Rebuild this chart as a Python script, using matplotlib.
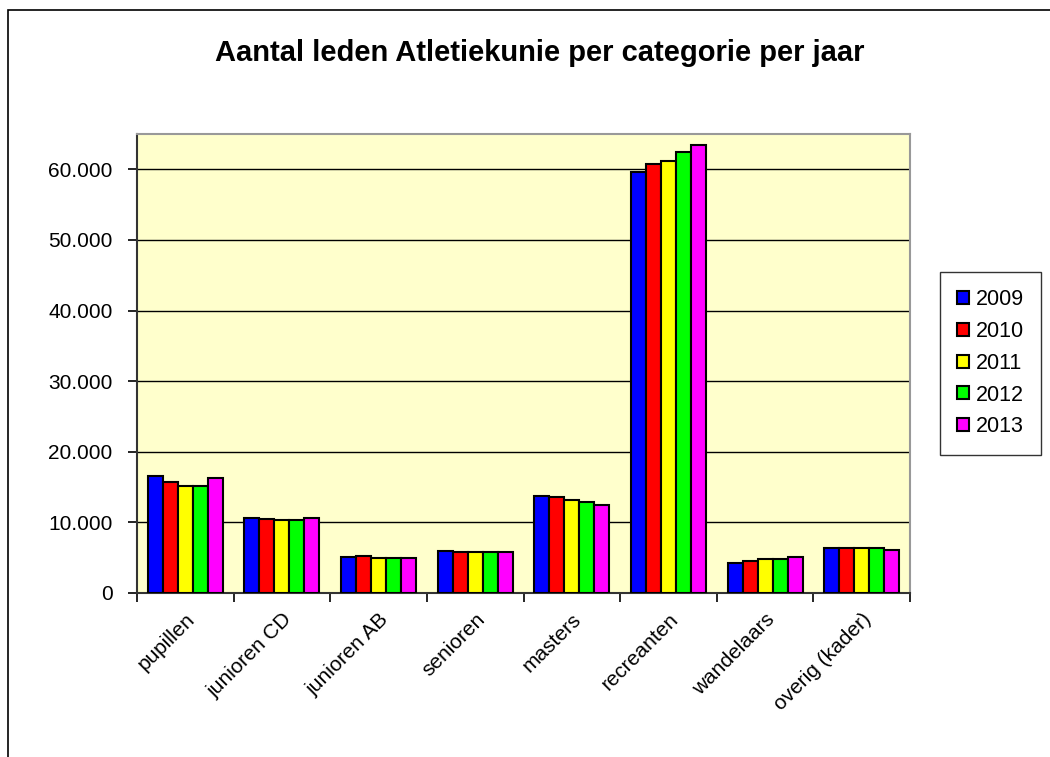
import numpy as np
import matplotlib
matplotlib.use("Agg")
import matplotlib.pyplot as plt
from matplotlib.ticker import FuncFormatter
from matplotlib.patches import Rectangle

plt.rcParams['font.family'] = ['Liberation Sans', 'DejaVu Sans']

categories = ["pupillen", "junioren CD", "junioren AB", "senioren", "masters",
              "recreanten", "wandelaars", "overig (kader)"]
years = ["2009", "2010", "2011", "2012", "2013"]
v2009 = [16550, 10570, 5140, 5990, 13680, 59570, 4200, 6330]
v2010 = [15750, 10420, 5280, 5800, 13540, 60800, 4530, 6330]
v2011 = [15140, 10280, 4900, 5800, 13200, 61200, 4770, 6330]
v2012 = [15140, 10380, 4900, 5800, 12830, 62450, 4770, 6330]
v2013 = [16230, 10660, 4900, 5800, 12500, 63500, 5090, 6130]
series = [v2009, v2010, v2011, v2012, v2013]
colors = ["#0000FF", "#FF0000", "#FFFF00", "#00FF00", "#FF00FF"]

fig = plt.figure(figsize=(10.5, 7.57), dpi=100)
ax = fig.add_axes([137/1050, 164/757, 773/1050, 459/757])

# outer chart border
fig.patches.append(Rectangle((8/1050, -0.01), 1.1, (757-10)/757 + 0.01,
                             transform=fig.transFigure, fill=False,
                             edgecolor="black", linewidth=1.2))

x = np.arange(len(categories))
w = 0.776 / 5
for i, (vals, col, yr) in enumerate(zip(series, colors, years)):
    ax.bar(x - 0.388 + w * (i + 0.5), vals, width=w, color=col,
           edgecolor="black", linewidth=1.5, label=yr, zorder=3)

ax.set_facecolor("#FFFFCC")
ax.set_xlim(-0.5, len(categories) - 0.5)
ax.set_ylim(0, 65000)
ax.set_yticks(np.arange(0, 60001, 10000))
ax.yaxis.set_major_formatter(FuncFormatter(lambda v, p: f"{int(v):,}".replace(",", ".")))
ax.grid(axis="y", color="black", linewidth=1.0, zorder=1)
ax.set_axisbelow(True)

ax.set_xticks(x)
ax.set_xticklabels(categories, rotation=45, ha="right", rotation_mode="anchor",
                   fontsize=15)
ax.tick_params(axis="x", length=0, pad=12)
ax.set_xticks(np.arange(-0.5, len(categories)), minor=True)
ax.tick_params(axis="x", which="minor", length=6.5, width=1.2, direction="out")
ax.tick_params(axis="y", labelsize=15, length=6.5, width=1.2, direction="out", pad=11)

for s in ["top", "right"]:
    ax.spines[s].set_color("#999999")
    ax.spines[s].set_linewidth(1.5)
for s in ["left", "bottom"]:
    ax.spines[s].set_color("#333333")
    ax.spines[s].set_linewidth(1.5)

fig.text(540/1050, 1 - 53/757, "Aantal leden Atletiekunie per categorie per jaar",
         ha="center", va="center", fontsize=21, fontweight="bold")

leg = ax.legend(loc="upper left", bbox_to_anchor=(940/1050, 1 - 272/757),
                bbox_transform=fig.transFigure, fontsize=15.5, frameon=True,
                fancybox=False, edgecolor="black", handlelength=0.55,
                handleheight=0.55, handletextpad=0.3, labelspacing=0.5,
                borderpad=0.8, borderaxespad=0)
leg.get_frame().set_linewidth(1.0)

fig.savefig("out.png", dpi=100, facecolor="white")
